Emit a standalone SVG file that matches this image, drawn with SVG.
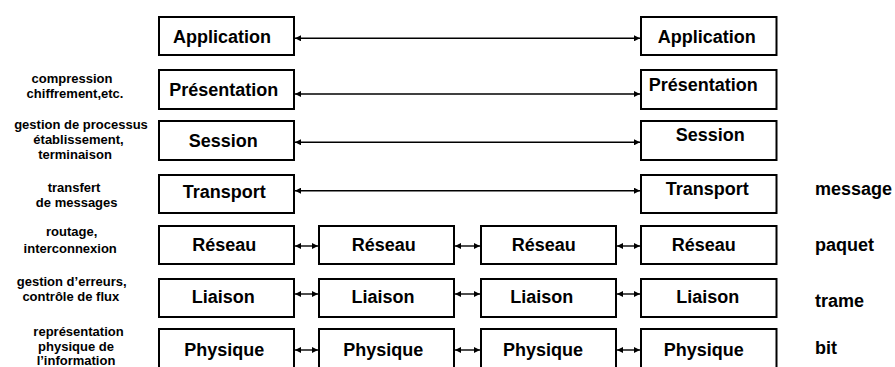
<svg xmlns="http://www.w3.org/2000/svg" width="895" height="367" viewBox="0 0 895 367">
<style>
.box{fill:#fff;stroke:#000;stroke-width:2}
.t{font-family:"Liberation Sans",Arial,Helvetica,sans-serif;font-weight:bold;font-size:18px;fill:#000;text-anchor:middle}
.lab{font-family:"Liberation Sans",Arial,Helvetica,sans-serif;font-weight:bold;font-size:13px;fill:#000;text-anchor:middle}
.unit{font-family:"Liberation Sans",Arial,Helvetica,sans-serif;font-weight:bold;font-size:18px;fill:#000}
.c{fill:none;stroke:#000;stroke-width:1.4}
.long{marker-start:url(#ah);marker-end:url(#ah)}
.short{marker-start:url(#as);marker-end:url(#as)}
</style>
<defs>
<marker id="ah" viewBox="0 0 10 10" refX="10" refY="5" markerWidth="9" markerHeight="6" markerUnits="userSpaceOnUse" orient="auto-start-reverse"><path d="M0,0 L10,5 L0,10 z" fill="#000"/></marker>
<marker id="as" viewBox="0 0 10 10" refX="10" refY="5" markerWidth="7" markerHeight="6" markerUnits="userSpaceOnUse" orient="auto-start-reverse"><path d="M0,0 L10,5 L0,10 z" fill="#000"/></marker>
</defs>
<rect width="895" height="367" fill="#fff"/>

<g id="connectors">
<path class="c long" d="M295,38.3 H640"/>
<path class="c long" d="M295,94 H640"/>
<path class="c long" d="M295,142.3 H640"/>
<path class="c long" d="M295,190.7 H640"/>
<path class="c short" d="M295,246 H318"/>
<path class="c short" d="M455,246 H480"/>
<path class="c short" d="M617,246 H640"/>
<path class="c short" d="M295,294 H318"/>
<path class="c short" d="M455,294 H480"/>
<path class="c short" d="M617,294 H640"/>
<path class="c short" d="M295,350 H318"/>
<path class="c short" d="M455,350 H480"/>
<path class="c short" d="M617,350 H640"/>
</g>

<g id="app-left"><rect class="box" x="159" y="17" width="135" height="38"/><text class="t" x="222" y="42.5">Application</text></g>
<g id="app-right"><rect class="box" x="641" y="17" width="135.5" height="38"/><text class="t" x="706.7" y="43">Application</text></g>

<g id="pres-left"><rect class="box" x="159" y="70" width="135" height="39"/><text class="t" x="223.8" y="96">Présentation</text></g>
<g id="pres-right"><rect class="box" x="641" y="70" width="135.5" height="39"/><text class="t" x="703.3" y="91.3">Présentation</text></g>

<g id="sess-left"><rect class="box" x="159" y="121" width="135" height="39"/><text class="t" x="223.3" y="147">Session</text></g>
<g id="sess-right"><rect class="box" x="641" y="121" width="135.5" height="39"/><text class="t" x="710.3" y="141.3">Session</text></g>

<g id="trans-left"><rect class="box" x="159" y="175" width="135" height="38"/><text class="t" x="224.2" y="198">Transport</text></g>
<g id="trans-right"><rect class="box" x="641" y="175" width="135.5" height="38"/><text class="t" x="707.2" y="194.6">Transport</text></g>

<g id="res-1"><rect class="box" x="159" y="226" width="135" height="38"/><text class="t" x="224.2" y="251.3">Réseau</text></g>
<g id="res-2"><rect class="box" x="319" y="226" width="135" height="38"/><text class="t" x="383.8" y="251.3">Réseau</text></g>
<g id="res-3"><rect class="box" x="481" y="226" width="135" height="38"/><text class="t" x="543.7" y="251.3">Réseau</text></g>
<g id="res-4"><rect class="box" x="641" y="226" width="135.5" height="38"/><text class="t" x="703.7" y="251.3">Réseau</text></g>

<g id="liai-1"><rect class="box" x="159" y="279" width="135" height="38"/><text class="t" x="223.3" y="303">Liaison</text></g>
<g id="liai-2"><rect class="box" x="319" y="279" width="135" height="38"/><text class="t" x="383" y="303">Liaison</text></g>
<g id="liai-3"><rect class="box" x="481" y="279" width="135" height="38"/><text class="t" x="541.7" y="303">Liaison</text></g>
<g id="liai-4"><rect class="box" x="641" y="279" width="135.5" height="38"/><text class="t" x="707.7" y="303">Liaison</text></g>

<g id="phys-1"><rect class="box" x="159" y="329" width="135" height="40"/><text class="t" x="224.2" y="356">Physique</text></g>
<g id="phys-2"><rect class="box" x="319" y="329" width="135" height="40"/><text class="t" x="383.3" y="356">Physique</text></g>
<g id="phys-3"><rect class="box" x="481" y="329" width="135" height="40"/><text class="t" x="543" y="356">Physique</text></g>
<g id="phys-4"><rect class="box" x="641" y="329" width="135.5" height="40"/><text class="t" x="703.7" y="356">Physique</text></g>

<g id="labels-left">
<text class="lab" x="72" y="83">compression</text>
<text class="lab" x="75" y="98">chiffrement,etc.</text>
<text class="lab" x="81" y="129">gestion de processus</text>
<text class="lab" x="78.5" y="144">établissement,</text>
<text class="lab" x="75" y="159">terminaison</text>
<text class="lab" x="74" y="192">transfert</text>
<text class="lab" x="76.7" y="207">de messages</text>
<text class="lab" x="71.7" y="236">routage,</text>
<text class="lab" x="70.2" y="252.5">interconnexion</text>
<text class="lab" x="71.7" y="286">gestion d’erreurs,</text>
<text class="lab" x="70.8" y="301">contrôle de flux</text>
<text class="lab" x="78.5" y="336">représentation</text>
<text class="lab" x="76" y="351">physique de</text>
<text class="lab" x="76" y="365">l’information</text>
</g>

<g id="labels-right">
<text class="unit" x="815" y="195">message</text>
<text class="unit" x="815" y="250.5">paquet</text>
<text class="unit" x="815" y="306.7">trame</text>
<text class="unit" x="815" y="354">bit</text>
</g>
</svg>
